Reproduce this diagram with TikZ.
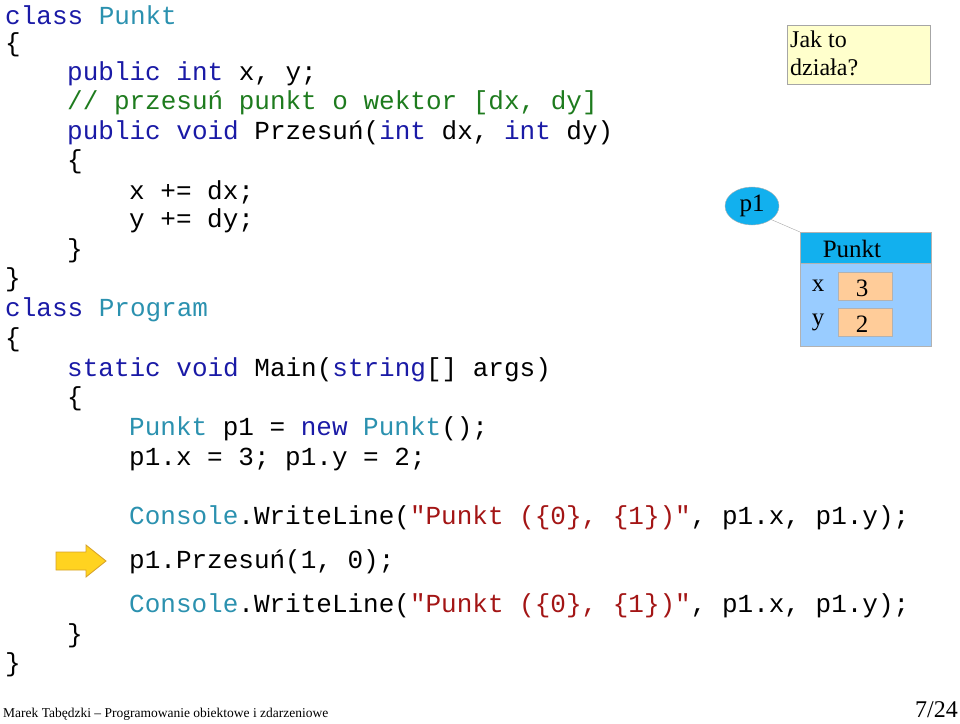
\documentclass[tikz,border=0pt]{standalone}
\usepackage{fontspec}
\usetikzlibrary{shapes.geometric}
\setmainfont{Liberation Serif}
\setmonofont{Liberation Mono}
\definecolor{kw}{HTML}{1A1AA6}
\definecolor{ty}{HTML}{2B91AF}
\definecolor{cm}{HTML}{1E7B1E}
\definecolor{st}{HTML}{A31515}
\definecolor{hdr}{HTML}{12B0EE}
\definecolor{bdy}{HTML}{99CCFF}
\definecolor{slot}{HTML}{FFCC99}
\newcommand{\K}[1]{\textcolor{kw}{#1}}
\newcommand{\T}[1]{\textcolor{ty}{#1}}
\newcommand{\C}[1]{\textcolor{cm}{#1}}
\newcommand{\Sx}[1]{\textcolor{st}{#1}}
\begin{document}
\begin{tikzpicture}[x=1pt,y=-1pt,
  code/.style={anchor=west,inner sep=0pt,font=\ttfamily\fontsize{26}{30}\selectfont},
  serif/.style={inner sep=0pt,font=\fontsize{25}{27}\selectfont}]
\useasboundingbox (0,0) rectangle (960,723);
\begin{scope}[yshift=-2pt]
\node[code] (l1) at (5,13) {\K{class} \T{Punkt}};
\node[code] (l2) at (5,43) {\{};
\node[code] (l3) at (67,72) {\K{public} \K{int} x, y;};
\node[code] (l4) at (67,101) {\C{// przesuń punkt o wektor [dx, dy]}};
\node[code] (l5) at (67,131) {\K{public} \K{void} Przesuń(\K{int} dx, \K{int} dy)};
\node[code] (l6) at (67,160) {\{};
\node[code] (l7) at (129,190) {x += dx;};
\node[code] (l8) at (129,219) {y += dy;};
\node[code] (l9) at (67,249) {\}};
\node[code] (l10) at (5,278) {\}};
\node[code] (l11) at (5,308) {\K{class} \T{Program}};
\node[code] (l12) at (5,338) {\{};
\node[code] (l13) at (67,368) {\K{static} \K{void} Main(\K{string}[] args)};
\node[code] (l14) at (67,397) {\{};
\node[code] (l15) at (129,427) {\T{Punkt} p1 = \K{new} \T{Punkt}();};
\node[code] (l16) at (129,457) {p1.x = 3; p1.y = 2;};
\node[code] (l17) at (129,516) {\T{Console}.WriteLine(\Sx{"Punkt (\{0\}, \{1\})"}, p1.x, p1.y);};
\node[code] (l18) at (129,560) {p1.Przesuń(1, 0);};
\node[code] (l19) at (129,604) {\T{Console}.WriteLine(\Sx{"Punkt (\{0\}, \{1\})"}, p1.x, p1.y);};
\node[code] (l20) at (67,634) {\}};
\node[code] (l21) at (5,663) {\}};
\end{scope}
% arrow
\draw[draw={rgb,255:red,214;green,160;blue,40},fill={rgb,255:red,255;green,211;blue,32},line width=0.8pt]
  (56,552) -- (86,552) -- (86,545) -- (106,561) -- (86,577) -- (86,570) -- (56,570) -- cycle;
% Jak to dziala
\node[draw=gray!70,fill={rgb,255:red,255;green,255;blue,204},minimum width=143pt,minimum height=59pt,anchor=north west,inner sep=0pt] (jak) at (787,25) {};
\node[serif,anchor=north west,align=left,font=\fontsize{24}{28}\selectfont] (jakt) at (790,31) {Jak to\\działa?};
% Punkt object
\node[draw=gray!60,fill=bdy,minimum width=131pt,minimum height=114pt,anchor=north west,inner sep=0pt] (obj) at (800,232) {};
\node[draw=gray!60,fill=hdr,minimum width=131pt,minimum height=31pt,anchor=north west,inner sep=0pt] (hdr) at (800,232) {};
\node[serif] (hdrt) at (852,249) {Punkt};
\node[draw=gray!60,fill=slot,minimum width=54pt,minimum height=28pt,anchor=north west,inner sep=0pt] (sx) at (838,272) {};
\node[serif] (sxt) at (862,288) {3};
\node[draw=gray!60,fill=slot,minimum width=54pt,minimum height=28pt,anchor=north west,inner sep=0pt] (sy) at (838,308) {};
\node[serif] (syt) at (862,324) {2};
\node[serif] (fx) at (818,286) {x};
\node[serif] (fy) at (818,322) {y};
% p1
\node[ellipse,draw=gray!60,fill=hdr,minimum width=54pt,minimum height=38pt,inner sep=0pt] (p1) at (752,206) {};
\node[serif] (p1t) at (752,206) {p1};
\coordinate (corner) at (800,232);
\draw[gray!70] (p1.south east) -- (corner);
% footer
\node[anchor=west,inner sep=0pt,font=\fontsize{13.5}{14}\selectfont] (foot) at (3,714) {Marek Tabędzki – Programowanie obiektowe i zdarzeniowe};
\node[anchor=east,inner sep=0pt,font=\fontsize{24}{26}\selectfont] (page) at (958,710) {7/24};
\end{tikzpicture}
\end{document}
